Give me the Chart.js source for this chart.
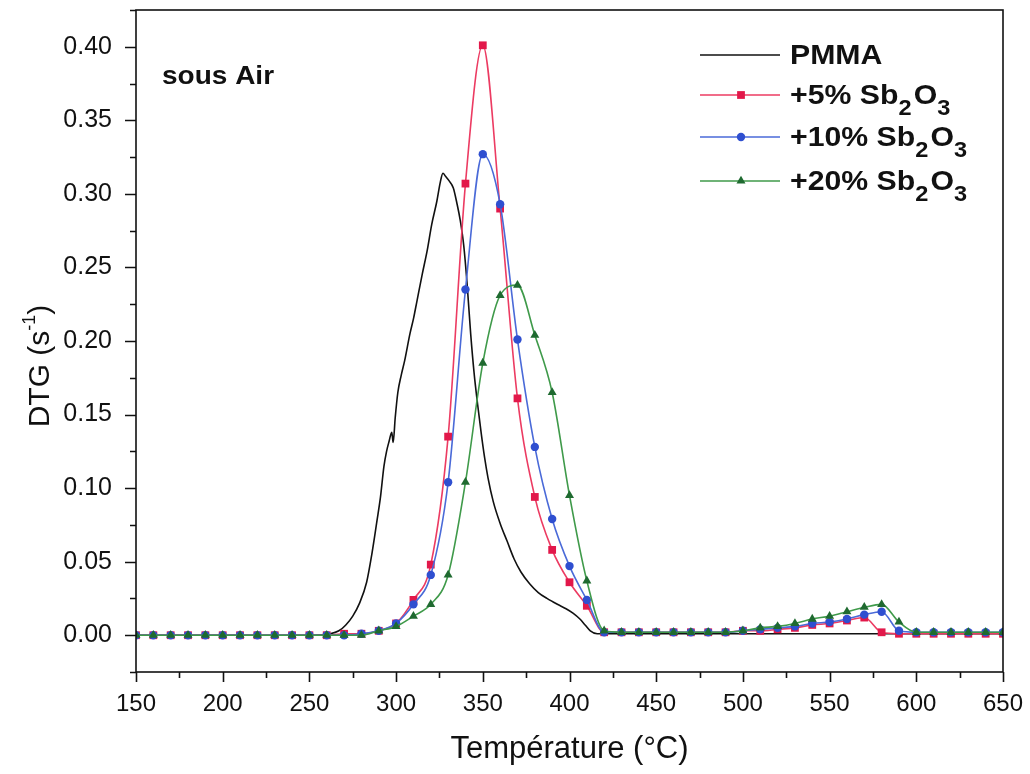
<!DOCTYPE html>
<html>
<head>
<meta charset="utf-8">
<script src="https://cdn.jsdelivr.net/npm/chart.js@4.4.0/dist/chart.umd.min.js"></script>
<style>
body{margin:0;background:#fff}
</style>
</head>
<body>
<canvas id="c" width="1030" height="774"></canvas>
<script>
// températures des points mesurés (un marqueur tous les 10 °C)
var temps = [150,160,170,180,190,200,210,220,230,240,250,260,270,280,290,300,310,320,330,340,
             350,360,370,380,390,400,410,420,430,440,450,460,470,480,490,500,510,520,530,540,
             550,560,570,580,590,600,610,620,630,640,650];
// DTG (s-1) par série
var sb5  = [0,0,0,0,0,0,0,0,0,0,0,0,0.001,0.001,0.003,0.008,0.024,0.048,0.135,0.307,
            0.401,0.290,0.161,0.094,0.058,0.036,0.020,0.002,0.002,0.002,0.002,0.002,0.002,0.002,0.002,0.003,0.003,0.004,0.005,0.007,
            0.008,0.010,0.012,0.002,0.001,0.001,0.001,0.001,0.001,0.001,0.001];
var sb10 = [0,0,0,0,0,0,0,0,0,0,0,0,0,0.001,0.003,0.008,0.021,0.041,0.104,0.235,
            0.327,0.293,0.201,0.128,0.079,0.047,0.024,0.002,0.002,0.002,0.002,0.002,0.002,0.002,0.002,0.003,0.004,0.005,0.006,0.008,
            0.009,0.011,0.014,0.016,0.003,0.002,0.002,0.002,0.002,0.002,0.002];
var sb20 = [0,0,0,0,0,0,0,0,0,0,0,0,0,0,0.003,0.006,0.013,0.021,0.041,0.104,
            0.185,0.231,0.238,0.204,0.165,0.095,0.037,0.003,0.002,0.002,0.002,0.002,0.002,0.002,0.002,0.003,0.005,0.006,0.008,0.011,
            0.013,0.016,0.019,0.021,0.009,0.002,0.002,0.002,0.002,0.002,0.002];
// PMMA pur : courbe continue sans marqueurs
var pmmaT = [150,250,262,267,271,275,279,283,286,289,291,293,294.5,296,297.5,298.3,299.5,301,303,305,
             308,310,312,315,318,320.5,323.5,325.5,327,328.5,330.5,333,335,337,339,341,343,345,347,349,
             351,353,356,360,364,368,372,377,382,387,393,398,402,406,409,412,416,420,500,650];
var pmmaV = [0,0,0.001,0.003,0.007,0.013,0.022,0.036,0.055,0.078,0.094,0.115,0.125,0.132,0.138,0.131,0.148,0.165,0.177,0.187,
             0.205,0.215,0.227,0.245,0.262,0.279,0.295,0.308,0.314,0.312,0.309,0.304,0.294,0.282,0.265,0.238,0.205,0.178,0.157,0.138,
             0.121,0.107,0.091,0.076,0.064,0.052,0.043,0.035,0.029,0.025,0.021,0.018,0.015,0.011,0.007,0.003,0.001,0.001,0.001,0.001];
var xTicks = [150,200,250,300,350,400,450,500,550,600,650];
var yTicks = [0,0.05,0.10,0.15,0.20,0.25,0.30,0.35,0.40];
var names = ['PMMA','+5% Sb2O3','+10% Sb2O3','+20% Sb2O3'];
var lineColors = ['#111111','#ec3b62','#4a6ad8','#3f9a4a'];
var markColors = ['#111111','#e2184a','#2f4fd0','#1f6a30'];
var markStyles = [false,'rect','circle','triangle'];
var markSizes = [0,5.5,4.2,5.2];

var FONT = 'Liberation Sans, Arial, sans-serif';

function pts(xs, ys) {
    return xs.map(function (x, i) { return {x: x, y: ys[i]}; });
}

// texte avec indices (un chiffre après une lettre passe en indice)
function drawRich(ctx, txt, x, y, size) {
    for (var i = 0; i < txt.length; i++) {
        var ch = txt[i];
        var sub = /[0-9]/.test(ch) && i > 0 && /[A-Za-z]/.test(txt[i - 1]);
        ctx.font = 'bold ' + (sub ? size * 0.78 : size) + 'px ' + FONT;
        ctx.fillText(ch, x, sub ? y + size * 0.45 : y);
        x += ctx.measureText(ch).width + (sub ? 2 : 0);
    }
}

var decor = {
    id: 'decor',
    afterDraw: function (chart) {
        var ctx = chart.ctx, a = chart.chartArea;
        var sx = chart.scales.x, sy = chart.scales.y;
        ctx.save();
        ctx.strokeStyle = '#111';
        ctx.lineWidth = 1.6;
        ctx.strokeRect(a.left, a.top, a.right - a.left, a.bottom - a.top);
        // graduations majeures/mineures
        ctx.beginPath();
        for (var t = 150; t <= 650; t += 25) {
            var px = Math.round(sx.getPixelForValue(t)) + 0.5;
            ctx.moveTo(px, a.bottom);
            ctx.lineTo(px, a.bottom + (t % 50 === 0 ? 10 : 6));
        }
        for (var k = -1; k <= 17; k++) {
            var py = Math.round(sy.getPixelForValue(k * 0.025)) + 0.5;
            ctx.moveTo(a.left, py);
            ctx.lineTo(a.left - (k % 2 === 0 ? 11 : 6), py);
        }
        ctx.stroke();

        ctx.fillStyle = '#111';
        // titre axe x
        ctx.font = '31px ' + FONT;
        ctx.textAlign = 'center';
        ctx.textBaseline = 'alphabetic';
        ctx.fillText('Température (°C)', (a.left + a.right) / 2, 758);
        // titre axe y
        ctx.save();
        ctx.translate(49, 366);
        ctx.rotate(-Math.PI / 2);
        ctx.textAlign = 'left';
        ctx.font = '30px ' + FONT;
        var w1 = ctx.measureText('DTG (s').width;
        ctx.font = '18px ' + FONT;
        var w2 = ctx.measureText('-1').width;
        ctx.font = '30px ' + FONT;
        var w3 = ctx.measureText(')').width;
        var x0 = -(w1 + w2 + w3) / 2;
        ctx.fillText('DTG (s', x0, 0);
        ctx.font = '18px ' + FONT;
        ctx.fillText('-1', x0 + w1, -14);
        ctx.font = '30px ' + FONT;
        ctx.fillText(')', x0 + w1 + w2, 0);
        ctx.restore();

        // annotation
        ctx.textAlign = 'left';
        ctx.save();
        ctx.translate(162, 84);
        ctx.scale(1.12, 1);
        ctx.font = 'bold 25px ' + FONT;
        ctx.fillText('sous Air', 0, 0);
        ctx.restore();

        // légende
        var rows = [55, 95, 137, 181];
        for (var i = 0; i < names.length; i++) {
            var y = rows[i];
            ctx.strokeStyle = lineColors[i];
            ctx.lineWidth = 1.6;
            ctx.beginPath();
            ctx.moveTo(700, y);
            ctx.lineTo(780, y);
            ctx.stroke();
            if (markStyles[i]) {
                ctx.fillStyle = markColors[i];
                ctx.strokeStyle = markColors[i];
                Chart.helpers.drawPoint(ctx, {pointStyle: markStyles[i], radius: markSizes[i], rotation: 0, borderWidth: 0}, 741, y);
            }
            ctx.fillStyle = '#111';
            ctx.textBaseline = 'middle';
            ctx.save();
            ctx.translate(790, y + 1);
            ctx.scale(1.08, 1);
            drawRich(ctx, names[i], 0, 0, 28);
            ctx.restore();
        }
        ctx.restore();
    }
};

function makeSet(i, xs, ys, order) {
    return {
        label: names[i],
        data: pts(xs, ys),
        borderColor: lineColors[i],
        borderWidth: 1.6,
        pointStyle: markStyles[i] || 'circle',
        pointRadius: markSizes[i],
        pointBackgroundColor: markColors[i],
        pointBorderColor: markColors[i],
        pointBorderWidth: 0,
        cubicInterpolationMode: 'monotone',
        order: order
    };
}

new Chart(document.getElementById('c'), {
    type: 'line',
    data: {
        datasets: [
            makeSet(0, pmmaT, pmmaV, 3),
            makeSet(1, temps, sb5, 2),
            makeSet(2, temps, sb10, 1),
            makeSet(3, temps, sb20, 0)
        ]
    },
    options: {
        responsive: false,
        animation: false,
        layout: {padding: {top: 10, right: 27, left: 0, bottom: 0}},
        plugins: {legend: {display: false}, tooltip: {enabled: false}},
        scales: {
            x: {
                type: 'linear', min: 150, max: 650,
                grid: {display: false, drawTicks: false},
                border: {display: false},
                afterBuildTicks: function (s) { s.ticks = xTicks.map(function (v) { return {value: v}; }); },
                afterFit: function (s) { s.height = 102; s.paddingLeft = 0; s.paddingRight = 0; },
                ticks: {padding: 18, color: '#111', maxRotation: 0, autoSkip: false, font: {family: FONT, size: 24}}
            },
            y: {
                type: 'linear', min: -0.025, max: 0.425,
                grid: {display: false, drawTicks: false},
                border: {display: false},
                afterBuildTicks: function (s) { s.ticks = yTicks.map(function (v) { return {value: v}; }); },
                afterFit: function (s) { s.width = 136; s.paddingTop = 0; s.paddingBottom = 0; },
                ticks: {padding: 24, color: '#111', font: {family: FONT, size: 25},
                    callback: function (v) { return v.toFixed(2); }}
            }
        }
    },
    plugins: [decor]
});
</script>
</body>
</html>
